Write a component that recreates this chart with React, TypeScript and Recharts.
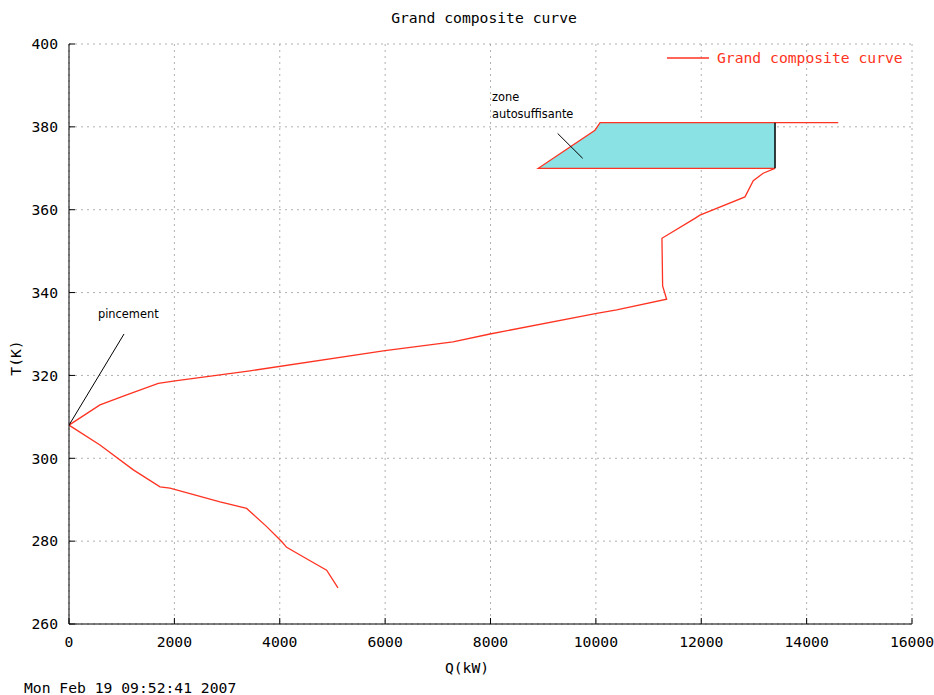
import { Area, CartesianGrid, ComposedChart, Line, ReferenceDot, ReferenceLine, XAxis, YAxis } from 'recharts'

// grand composite curve, read top (hot end) to bottom (cold end)
const Q_VALUES = [
  14600, 10080, 9983, 8907, 13400, 13175, 12987, 12830, 11975, 11880, 11254, 11267, 11343, 10395, 10015,
  7990, 7288, 5997, 3435, 2012, 1695, 1095, 588, 0, 588, 1221, 1727, 1917, 2866, 3372, 3752, 4036, 4131,
  4542, 4890, 5105
]
const T_VALUES = [
  381, 381, 379.2, 370, 370, 368.8, 367, 363.1, 358.7, 357.9, 353.1, 341.6, 338.4, 335.8, 335, 330, 328.1,
  326, 321.1, 318.7, 318.1, 315.3, 312.9, 308, 303.2, 297.2, 293.1, 292.8, 289.5, 287.9, 283.5, 279.9,
  278.5, 275.5, 273, 268.7
]

// self-sufficient pocket
const ZONE_Q = [8907, 9983, 10080, 13400]
const ZONE_TOP = [370, 379.2, 381, 381]
const ZONE_BOTTOM = 370

const X_TICKS = [0, 2000, 4000, 6000, 8000, 10000, 12000, 14000, 16000]
const Y_TICKS = [260, 280, 300, 320, 340, 360, 380, 400]

const RED = '#ff3322'
const MONO = '"DejaVu Sans Mono", monospace'
const SANS = '"DejaVu Sans", sans-serif'

const curve = Q_VALUES.map((q, i) => ({ q, t: T_VALUES[i] }))
const zone = ZONE_Q.map((q, i) => ({ q, band: [ZONE_BOTTOM, ZONE_TOP[i]] }))

const tickStyle = { fontFamily: MONO, fontSize: 14.7, fill: '#000' }

function Note({ cx, cy, text }: { cx?: number; cy?: number; text: string }) {
  return (
    <text x={cx} y={cy} fontFamily={SANS} fontSize={11.4} fill="#000">
      {text}
    </text>
  )
}

const textBase = {
  position: 'absolute' as const,
  fontFamily: MONO,
  fontSize: 14.7,
  lineHeight: '18px',
  whiteSpace: 'nowrap' as const
}

export default function App() {
  return (
    <div style={{ position: 'fixed', left: 0, top: 0, width: 934, height: 695, background: '#fff', overflow: 'hidden' }}>
      <ComposedChart
        width={934}
        height={695}
        margin={{ top: 44, right: 22, bottom: 41, left: 0 }}
        style={{ overflow: 'visible' }}
      >
        <CartesianGrid stroke="#b0b0b0" strokeDasharray="2 4" />
        <XAxis
          dataKey="q"
          type="number"
          domain={[0, 16000]}
          ticks={X_TICKS}
          allowDataOverflow
          height={30}
          tickSize={-6}
          tickMargin={19}
          tick={tickStyle}
          stroke="#000"
        />
        <XAxis
          xAxisId="top"
          orientation="top"
          type="number"
          domain={[0, 16000]}
          ticks={X_TICKS}
          allowDataOverflow
          height={0}
          tickSize={-6}
          tickFormatter={() => ''}
          stroke="#000"
        />
        <YAxis
          type="number"
          domain={[260, 400]}
          ticks={Y_TICKS}
          allowDataOverflow
          width={69}
          tickSize={-6}
          tickMargin={17}
          tick={tickStyle}
          stroke="#000"
        />
        <YAxis
          yAxisId="right"
          orientation="right"
          type="number"
          domain={[260, 400]}
          ticks={Y_TICKS}
          allowDataOverflow
          width={0}
          tickSize={-6}
          tickFormatter={() => ''}
          stroke="#000"
        />
        <Area
          data={zone}
          dataKey="band"
          type="linear"
          fill="#8ae2e4"
          fillOpacity={1}
          stroke="none"
          isAnimationActive={false}
        />
        <Line
          data={curve}
          dataKey="t"
          type="linear"
          stroke={RED}
          strokeWidth={1.3}
          dot={false}
          isAnimationActive={false}
        />
        <ReferenceLine
          segment={[{ x: 13400, y: 370 }, { x: 13400, y: 381 }]}
          stroke="#000"
          strokeWidth={1.5}
        />
        <ReferenceLine segment={[{ x: 1044, y: 330 }, { x: 0, y: 308 }]} stroke="#000" strokeWidth={1} />
        <ReferenceLine segment={[{ x: 9275, y: 378.4 }, { x: 9750, y: 372.4 }]} stroke="#000" strokeWidth={1} />
        <ReferenceDot x={550} y={333.9} r={0} shape={(p: any) => <Note cx={p.cx} cy={p.cy} text="pincement" />} />
        <ReferenceDot x={8028} y={386.2} r={0} shape={(p: any) => <Note cx={p.cx} cy={p.cy} text="zone" />} />
        <ReferenceDot
          x={8028}
          y={382.1}
          r={0}
          shape={(p: any) => <Note cx={p.cx} cy={p.cy} text="autosuffisante" />}
        />
      </ComposedChart>

      <div style={{ ...textBase, left: 484, top: 9, transform: 'translateX(-50%)' }}>Grand composite curve</div>

      <div style={{ position: 'absolute', left: 667, top: 49, display: 'flex', alignItems: 'center' }}>
        <svg width={42} height={18}>
          <line x1={0} y1={9} x2={42} y2={9} stroke={RED} strokeWidth={1.3} />
        </svg>
        <span style={{ ...textBase, position: 'static', marginLeft: 8, color: RED }}>Grand composite curve</span>
      </div>

      <div style={{ ...textBase, left: 467, top: 659, transform: 'translateX(-50%)' }}>Q(kW)</div>

      <div style={{ ...textBase, left: 16, top: 358, transform: 'translate(-50%, -50%) rotate(-90deg)' }}>T(K)</div>

      <div style={{ ...textBase, left: 24, top: 679 }}>Mon Feb 19 09:52:41 2007</div>
    </div>
  )
}
